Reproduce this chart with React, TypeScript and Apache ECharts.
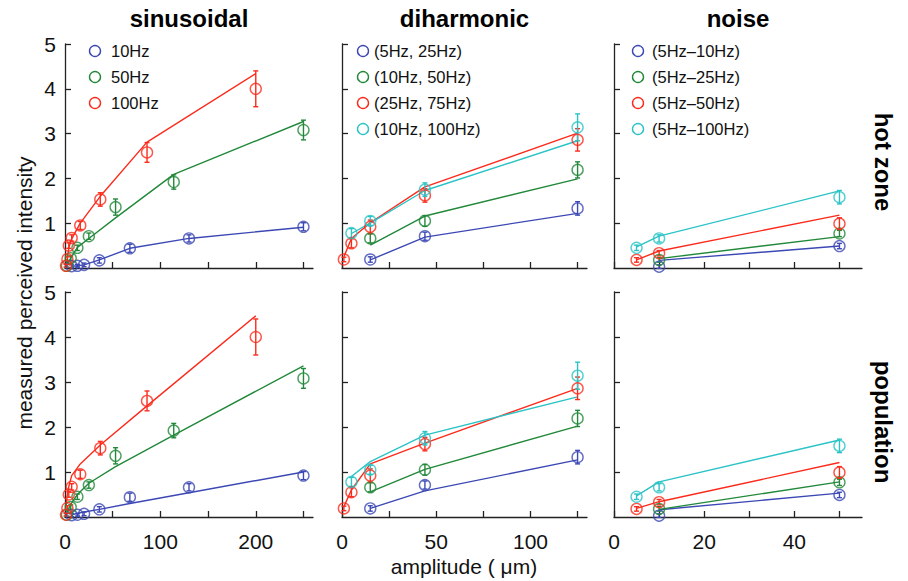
import React, { useEffect, useRef } from "react";
import * as echarts from "echarts";

// ---------- colours ----------
const BLUE = "#3c48b4";
const GREEN = "#22883a";
const RED = "#fb2b1c";
const CYAN = "#2bc3c6";

// ---------- labels ----------
const columnTitles = ["sinusoidal", "diharmonic", "noise"];
const rowTitles = ["hot zone", "population"];
const sinLegend = ["10Hz", "50Hz", "100Hz"];
const dihLegend = ["(5Hz, 25Hz)", "(10Hz, 50Hz)", "(25Hz, 75Hz)", "(10Hz, 100Hz)"];
const noiLegend = ["(5Hz\u201310Hz)", "(5Hz\u201325Hz)", "(5Hz\u201350Hz)", "(5Hz\u2013100Hz)"];
const yTickLabels = [1, 2, 3, 4, 5];
const sinXTicks = [0, 50, 100, 150, 200, 250];
const sinXLabels = [0, 100, 200];
const dihXTicks = [0, 25, 50, 75, 100, 125];
const dihXLabels = [0, 50, 100];
const noiXTicks = [0, 10, 20, 30, 40, 50];
const noiXLabels = [0, 20, 40];

// ---------- sinusoidal ----------
const sinX10 = [7, 13, 20, 36, 68, 130, 250];
const sinY10 = [0.04, 0.05, 0.07, 0.17, 0.44, 0.66, 0.92];
const sinE10 = [0.03, 0.03, 0.04, 0.06, 0.09, 0.08, 0.09];
const sinFitHot10 = [0.04, 0.05, 0.07, 0.18, 0.44, 0.66, 0.91];
const sinFitPop10 = [0.05, 0.08, 0.11, 0.17, 0.3, 0.54, 1.0];

const sinX50 = [2, 6, 13, 25, 53, 114, 250];
const sinY50 = [0.05, 0.22, 0.45, 0.71, 1.36, 1.92, 3.08];
const sinE50 = [0.03, 0.05, 0.06, 0.07, 0.18, 0.16, 0.22];
const sinFitHot50 = [0.05, 0.22, 0.46, 0.66, 1.12, 2.09, 3.27];
const sinFitPop50 = [0.1, 0.28, 0.5, 0.75, 1.12, 1.82, 3.36];

const sinX100 = [1, 2.5, 4, 7, 16, 37, 86, 200];
const sinY100 = [0.05, 0.2, 0.5, 0.67, 0.95, 1.53, 2.58, 4.0];
const sinE100 = [0.03, 0.05, 0.06, 0.07, 0.09, 0.15, 0.22, 0.4];
const sinFitHot100 = [0.03, 0.22, 0.45, 0.65, 1.0, 1.6, 2.81, 4.34];
const sinFitPop100 = [0.2, 0.51, 0.68, 0.92, 1.18, 1.6, 2.47, 4.47];

// ---------- diharmonic ----------
const dihX1 = [15, 44, 125];
const dihY1 = [0.19, 0.71, 1.33];
const dihE1 = [0.06, 0.09, 0.15];
const dihFitHot1 = [0.18, 0.69, 1.22];
const dihFitPop1 = [0.19, 0.58, 1.27];

const dihX2 = [15, 44, 125];
const dihY2 = [0.66, 1.05, 2.19];
const dihE2 = [0.1, 0.12, 0.18];
const dihFitHot2 = [0.51, 1.16, 1.99];
const dihFitPop2 = [0.56, 1.06, 2.02];

const dihX3 = [1, 5, 15, 44, 125];
const dihY3 = [0.19, 0.55, 0.92, 1.62, 2.86];
const dihE3 = [0.05, 0.1, 0.15, 0.15, 0.25];
const dihFitHot3 = [0.25, 0.66, 1.01, 1.81, 3.01];
const dihFitPop3 = [0.23, 0.6, 1.18, 1.64, 2.86];

const dihX4 = [5, 15, 44, 125];
const dihY4 = [0.78, 1.05, 1.75, 3.14];
const dihE4 = [0.1, 0.1, 0.15, 0.3];
const dihFitHot4 = [0.77, 1.0, 1.73, 2.84];
const dihFitPop4 = [0.9, 1.23, 1.82, 2.67];

// ---------- noise ----------
const noiX1 = [10, 50];
const noiY1 = [0.03, 0.49];
const noiE1 = [0.04, 0.06];
const noiFitHot1 = [0.17, 0.49];
const noiFitPop1 = [0.16, 0.53];

const noiX2 = [10, 50];
const noiY2 = [0.18, 0.77];
const noiE2 = [0.05, 0.07];
const noiFitHot2 = [0.21, 0.7];
const noiFitPop2 = [0.17, 0.78];

const noiX3 = [5, 10, 50];
const noiY3 = [0.18, 0.33, 0.99];
const noiE3 = [0.05, 0.06, 0.13];
const noiFitHot3 = [0.18, 0.38, 1.18];
const noiFitPop3 = [0.19, 0.34, 1.21];

const noiX4 = [5, 10, 50];
const noiY4 = [0.45, 0.66, 1.58];
const noiE4 = [0.06, 0.08, 0.15];
const noiFitHot4 = [0.47, 0.71, 1.72];
const noiFitPop4 = [0.47, 0.78, 1.71];

const FONT = "'Liberation Sans', Arial, Helvetica, sans-serif";
const AXIS = "#222";

type Group = { xs: number[]; ys: number[]; es: number[]; hot: number[]; pop: number[]; color: string };

const sinGroups: Group[] = [
  { xs: sinX10, ys: sinY10, es: sinE10, hot: sinFitHot10, pop: sinFitPop10, color: BLUE },
  { xs: sinX50, ys: sinY50, es: sinE50, hot: sinFitHot50, pop: sinFitPop50, color: GREEN },
  { xs: sinX100, ys: sinY100, es: sinE100, hot: sinFitHot100, pop: sinFitPop100, color: RED },
];
const dihGroups: Group[] = [
  { xs: dihX1, ys: dihY1, es: dihE1, hot: dihFitHot1, pop: dihFitPop1, color: BLUE },
  { xs: dihX2, ys: dihY2, es: dihE2, hot: dihFitHot2, pop: dihFitPop2, color: GREEN },
  { xs: dihX3, ys: dihY3, es: dihE3, hot: dihFitHot3, pop: dihFitPop3, color: RED },
  { xs: dihX4, ys: dihY4, es: dihE4, hot: dihFitHot4, pop: dihFitPop4, color: CYAN },
];
const noiGroups: Group[] = [
  { xs: noiX1, ys: noiY1, es: noiE1, hot: noiFitHot1, pop: noiFitPop1, color: BLUE },
  { xs: noiX2, ys: noiY2, es: noiE2, hot: noiFitHot2, pop: noiFitPop2, color: GREEN },
  { xs: noiX3, ys: noiY3, es: noiE3, hot: noiFitHot3, pop: noiFitPop3, color: RED },
  { xs: noiX4, ys: noiY4, es: noiE4, hot: noiFitHot4, pop: noiFitPop4, color: CYAN },
];

function buildOption() {
  const colLeft = [65, 342, 614];
  const colWidth = [248, 245, 248];
  const rowTop = [44, 292];
  const rowHeight = [224, 225];
  const xMax = [260, 130, 55];
  const xTicks = [sinXTicks, dihXTicks, noiXTicks];
  const xLabels = [sinXLabels, dihXLabels, noiXLabels];
  const groupsByCol = [sinGroups, dihGroups, noiGroups];
  const legendByCol = [sinLegend, dihLegend, noiLegend];

  const grid: any[] = [];
  const xAxis: any[] = [];
  const yAxis: any[] = [];
  const series: any[] = [];
  const graphic: any[] = [];

  for (let r = 0; r < 2; r++) {
    for (let c = 0; c < 3; c++) {
      const p = r * 3 + c;
      grid.push({ left: colLeft[c], top: rowTop[r], width: colWidth[c], height: rowHeight[r], containLabel: false });
      xAxis.push({
        gridIndex: p,
        type: "value",
        min: 0,
        max: xMax[c],
        axisLine: { show: true, onZero: false, lineStyle: { color: AXIS, width: 1.3 } },
        axisTick: { show: true, inside: true, length: 6, customValues: xTicks[c], lineStyle: { color: AXIS, width: 1.3 } },
        axisLabel: {
          show: r === 1,
          customValues: xLabels[c],
          fontSize: 21,
          fontFamily: FONT,
          color: "#111",
          margin: 14,
        },
        splitLine: { show: false },
      });
      yAxis.push({
        gridIndex: p,
        type: "value",
        min: 0,
        max: 5,
        axisLine: { show: true, onZero: false, lineStyle: { color: AXIS, width: 1.3 } },
        axisTick: { show: true, inside: true, length: 6, customValues: yTickLabels, lineStyle: { color: AXIS, width: 1.3 } },
        axisLabel: {
          show: c === 0,
          customValues: yTickLabels,
          fontSize: 21,
          fontFamily: FONT,
          color: "#111",
          margin: 9,
        },
        splitLine: { show: false },
      });

      for (const g of groupsByCol[c]) {
        const fit = r === 0 ? g.hot : g.pop;
        const color = g.color;
        series.push({
          type: "line",
          xAxisIndex: p,
          yAxisIndex: p,
          data: g.xs.map((x, i) => [x, fit[i]]),
          symbol: "none",
          showSymbol: false,
          lineStyle: { color, width: 1.4 },
          silent: true,
          z: 2,
        });
        series.push({
          type: "custom",
          xAxisIndex: p,
          yAxisIndex: p,
          data: g.xs.map((x, i) => [x, g.ys[i], g.es[i]]),
          encode: { x: 0, y: 1 },
          silent: true,
          z: 3,
          renderItem: (params: any, api: any) => {
            const x = api.value(0);
            const y = api.value(1);
            const e = api.value(2);
            const t = api.coord([x, y + e]);
            const b = api.coord([x, y - e]);
            const cw = 2.5;
            const st = { stroke: color, lineWidth: 1.4 };
            return {
              type: "group",
              children: [
                { type: "line", shape: { x1: t[0], y1: t[1], x2: b[0], y2: b[1] }, style: st },
                { type: "line", shape: { x1: t[0] - cw, y1: t[1], x2: t[0] + cw, y2: t[1] }, style: st },
                { type: "line", shape: { x1: b[0] - cw, y1: b[1], x2: b[0] + cw, y2: b[1] }, style: st },
              ],
            };
          },
        });
        series.push({
          type: "scatter",
          xAxisIndex: p,
          yAxisIndex: p,
          data: g.xs.map((x, i) => [x, g.ys[i]]),
          symbol: "circle",
          symbolSize: 11,
          itemStyle: { color: "rgba(0,0,0,0)", borderColor: color, borderWidth: 1.4 },
          silent: true,
          z: 4,
        });
      }
    }
  }

  // column titles
  for (let c = 0; c < 3; c++) {
    graphic.push({
      type: "text",
      x: colLeft[c] + colWidth[c] / 2,
      y: 18,
      style: { text: columnTitles[c], fontSize: 24, fontWeight: "bold", fontFamily: FONT, fill: "#000", align: "center", verticalAlign: "middle" },
    });
  }
  // row titles
  const rowCenters = [162, 422];
  for (let r = 0; r < 2; r++) {
    graphic.push({
      type: "text",
      x: 883,
      y: rowCenters[r],
      rotation: -Math.PI / 2,
      style: { text: rowTitles[r], fontSize: 24, fontWeight: "bold", fontFamily: FONT, fill: "#000", align: "center", verticalAlign: "middle" },
    });
  }
  // axis titles
  graphic.push({
    type: "text",
    x: 24,
    y: 293,
    rotation: Math.PI / 2,
    style: { text: "measured perceived intensity", fontSize: 21, fontFamily: FONT, fill: "#111", align: "center", verticalAlign: "middle" },
  });
  graphic.push({
    type: "text",
    x: 464,
    y: 566,
    style: { text: "amplitude ( \u03bcm)", fontSize: 21, fontFamily: FONT, fill: "#111", align: "center", verticalAlign: "middle" },
  });

  // legends
  const legCircleX = [95, 363, 638];
  const legTextX = [111, 374, 652];
  const legRows = [51, 77, 103, 129];
  for (let c = 0; c < 3; c++) {
    const names = legendByCol[c];
    const groups = groupsByCol[c];
    names.forEach((name, i) => {
      graphic.push({
        type: "circle",
        shape: { cx: legCircleX[c], cy: legRows[i], r: 5.5 },
        style: { fill: "none", stroke: groups[i].color, lineWidth: 1.4 },
      });
      graphic.push({
        type: "text",
        x: legTextX[c],
        y: legRows[i],
        style: { text: name, fontSize: 16.5, fontFamily: FONT, fill: "#111", align: "left", verticalAlign: "middle" },
      });
    });
  }

  return {
    animation: false,
    backgroundColor: "#fff",
    grid,
    xAxis,
    yAxis,
    series,
    graphic,
  };
}

export default function App() {
  const ref = useRef<HTMLDivElement>(null);
  useEffect(() => {
    if (!ref.current) return;
    const chart = echarts.init(ref.current, undefined, { renderer: "svg" });
    chart.setOption(buildOption() as any);
    return () => chart.dispose();
  }, []);
  return (
    <div
      ref={ref}
      style={{ position: "fixed", left: 0, top: 0, width: 908, height: 581, background: "#fff" }}
    />
  );
}
